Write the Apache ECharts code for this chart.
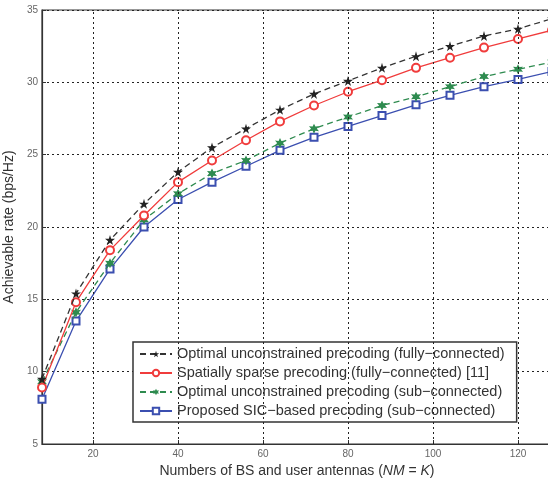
<!DOCTYPE html>
<html>
<head>
<meta charset="utf-8">
<script src="https://cdn.jsdelivr.net/npm/echarts@6/dist/echarts.min.js"></script>
<style>
  html, body { margin: 0; padding: 0; background: #fff; }
  #chart { width: 548px; height: 479px; }
</style>
</head>
<body>
<div id="chart"></div>
<script>
// antenna counts (NM = K)
const antennas = [8, 16, 24, 32, 40, 48, 56, 64, 72, 80, 88, 96, 104, 112, 120, 128];
const xTicks = [20, 40, 60, 80, 100, 120];

const optimalFull = [9.5, 15.4, 19.1, 21.6, 23.8, 25.5, 26.8, 28.1, 29.2, 30.1, 31.0, 31.8, 32.5, 33.2, 33.7, 34.4];
const sparseFull = [8.9, 14.8, 18.4, 20.8, 23.1, 24.6, 26.0, 27.3, 28.4, 29.35, 30.15, 31.0, 31.7, 32.4, 33.0, 33.6];
const optimalSub = [9.3, 14.1, 17.5, 20.5, 22.3, 23.7, 24.6, 25.8, 26.8, 27.6, 28.4, 29.0, 29.7, 30.4, 30.9, 31.4];
const proposedSub = [8.1, 13.5, 17.1, 20.0, 21.9, 23.1, 24.2, 25.3, 26.2, 26.95, 27.7, 28.45, 29.1, 29.7, 30.2, 30.75];

const names = [
    'Optimal unconstrained precoding (fully\u2212connected)',
    'Spatially sparse precoding (fully\u2212connected) [11]',
    'Optimal unconstrained precoding (sub\u2212connected)',
    'Proposed SIC\u2212based precoding (sub\u2212connected)'
];

const star5 = 'path://M50,0 L61,35 L98,35 L68,57 L79,91 L50,70 L21,91 L32,57 L2,35 L39,35 Z';
const star6 = 'path://M50,0 L62,28 L93,25 L75,50 L93,75 L62,72 L50,100 L38,72 L7,75 L25,50 L7,25 L38,28 Z';

function pairs(ys) {
    return antennas.map(function (x, i) { return [x, ys[i]]; });
}

const chart = echarts.init(document.getElementById('chart'));

const font = 'Liberation Sans, Arial, sans-serif';

const option = {
    animation: false,
    backgroundColor: '#fff',
    textStyle: { fontFamily: font },
    grid: {
        left: 42, right: -4, top: 10, bottom: 35,
        outerBoundsMode: 'none',
        containLabel: false,
        show: true,
        borderColor: '#333',
        borderWidth: 1.2
    },
    legend: {
        orient: 'vertical',
        left: 133,
        top: 342,
        backgroundColor: '#fff',
        borderColor: '#333',
        borderWidth: 1.5,
        borderRadius: 0,
        padding: [4, 12, 3, 6],
        itemWidth: 32,
        itemHeight: 8,
        itemGap: 3,
        textStyle: { fontFamily: font, fontSize: 14.5, color: '#333', lineHeight: 16 },
        data: names
    },
    xAxis: {
        type: 'value',
        min: 8,
        max: 128,
        name: 'Numbers of BS and user antennas ({i|NM} = {i|K})',
        nameLocation: 'middle',
        nameGap: 14,
        nameTextStyle: {
            fontSize: 14, color: '#333',
            rich: { i: { fontStyle: 'italic', fontSize: 14, color: '#333' } }
        },
        axisLine: { lineStyle: { color: '#333', width: 1.2 } },
        axisTick: { inside: true, length: 4, customValues: xTicks, lineStyle: { color: '#333' } },
        axisLabel: { customValues: xTicks, fontSize: 10, color: '#666', margin: 5 },
        splitLine: { show: false }
    },
    yAxis: {
        type: 'value',
        min: 5,
        max: 35,
        interval: 5,
        name: 'Achievable rate (bps/Hz)',
        nameLocation: 'middle',
        nameGap: 19,
        nameTextStyle: { fontSize: 14, color: '#333' },
        axisLine: { lineStyle: { color: '#333', width: 1.2 } },
        axisTick: { inside: true, length: 4, lineStyle: { color: '#333' } },
        axisLabel: { fontSize: 10, color: '#666', margin: 4 },
        splitLine: { show: true, lineStyle: { color: '#222', type: [2, 3], width: 1 } }
    },
    series: [
        {
            name: names[0],
            type: 'line',
            data: pairs(optimalFull),
            symbol: star5,
            symbolSize: 10,
            itemStyle: { color: '#222' },
            lineStyle: { color: '#333', width: 1.3, type: [6, 4] },
            markLine: {
                silent: true,
                symbol: 'none',
                label: { show: false },
                lineStyle: { color: '#222', type: [2, 3], width: 1 },
                data: xTicks.map(function (v) { return { xAxis: v }; })
            },
            z: 4
        },
        {
            name: names[1],
            type: 'line',
            data: pairs(sparseFull),
            symbol: 'emptyCircle',
            symbolSize: 8,
            itemStyle: { color: '#f03c3c', borderWidth: 1.3 },
            lineStyle: { color: '#f03c3c', width: 1.3 },
            z: 3
        },
        {
            name: names[2],
            type: 'line',
            data: pairs(optimalSub),
            symbol: star6,
            symbolSize: 10,
            itemStyle: { color: '#2e8b4f' },
            lineStyle: { color: '#2e8b4f', width: 1.3, type: [6, 4] },
            z: 2
        },
        {
            name: names[3],
            type: 'line',
            data: pairs(proposedSub),
            symbol: 'emptyRect',
            symbolSize: 7,
            itemStyle: { color: '#3b4fb0', borderWidth: 1.2 },
            lineStyle: { color: '#3b4fb0', width: 1.3 },
            z: 1
        }
    ]
};

chart.setOption(option);

window.addEventListener('resize', function () {
    chart.resize();
});
</script>
</body>
</html>
